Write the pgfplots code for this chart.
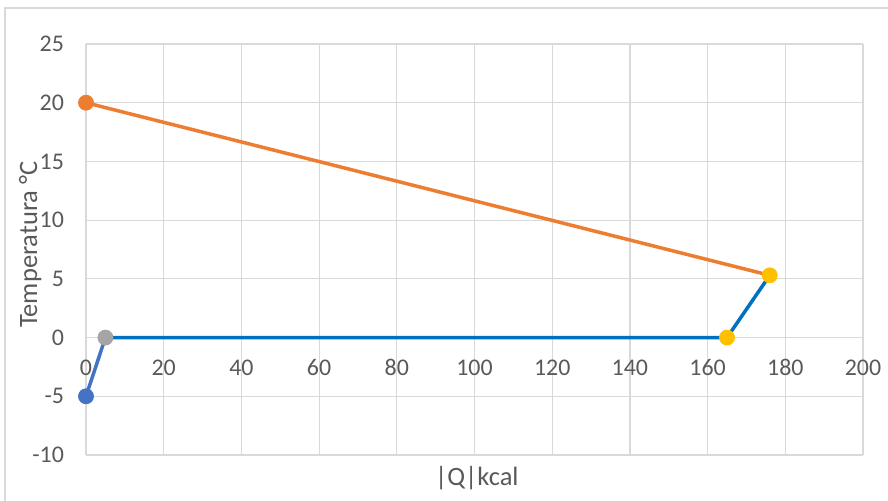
\documentclass[border=0pt]{standalone}
\usepackage{fontspec}
\setmainfont{Carlito}
\usepackage{pgfplots}
\pgfplotsset{compat=1.18}
\definecolor{txt}{HTML}{595959}
\definecolor{grd}{HTML}{D9D9D9}
\definecolor{bluemk}{HTML}{4472C4}
\definecolor{blueln}{HTML}{0070C0}
\definecolor{orng}{HTML}{ED7D31}
\definecolor{gry}{HTML}{A5A5A5}
\definecolor{ylw}{HTML}{FFC000}
\begin{document}
\begin{tikzpicture}
\begin{axis}[
  at={(0,0)}, anchor=south west,
  scale only axis, width=388.5bp, height=205.5bp,
  xmin=0, xmax=200, ymin=-10, ymax=25,
  xtick={0,20,...,200}, ytick={-10,-5,...,25},
  axis x line=middle, axis y line=left,
  axis line style={draw=none},
  hide obscured x ticks=false, hide obscured y ticks=false,
  major tick length=0pt,
  grid=major, grid style={grd, line width=0.6bp},
  font=\fontsize{12}{14}\selectfont,
  ticklabel style={text=txt},
  /pgf/number format/assume math mode=true,
  xticklabel style={anchor=north, yshift=-7.5bp},
  yticklabel style={anchor=east, xshift=-7.5bp},
  xlabel={|Q|kcal}, ylabel={Temperatura °C},
  label style={font=\fontsize{13.3}{15}\selectfont},
  xlabel style={at={(axis description cs:0.503,-0.073)}, anchor=base, text=txt},
  ylabel style={at={(axis description cs:-0.063,0.512)}, anchor=base, rotate=0, text=txt},
  clip=false,
]
\addplot[bluemk, line width=1.75bp] coordinates {(0,-5) (5,0)};
\addplot[blueln, line width=1.75bp] coordinates {(5,0) (165,0) (176,5.3)};
\addplot[orng, line width=1.75bp] coordinates {(0,20) (176,5.3)};
\addplot[only marks, mark=*, mark size=3.75bp, mark options={draw=bluemk, fill=bluemk}] coordinates {(0,-5)};
\addplot[only marks, mark=*, mark size=3.75bp, mark options={draw=gry, fill=gry}] coordinates {(5,0)};
\addplot[only marks, mark=*, mark size=3.75bp, mark options={draw=ylw, fill=ylw}] coordinates {(165,0) (176,5.3)};
\addplot[only marks, mark=*, mark size=3.75bp, mark options={draw=orng, fill=orng}] coordinates {(0,20)};
\end{axis}
\draw[grd, line width=0.6bp] (-40.5bp,-40bp) rectangle (420bp,223.5bp);
\pgfresetboundingbox
\path[use as bounding box] (-43bp,-23bp) rectangle (401bp,227.5bp);
\end{tikzpicture}
\end{document}
